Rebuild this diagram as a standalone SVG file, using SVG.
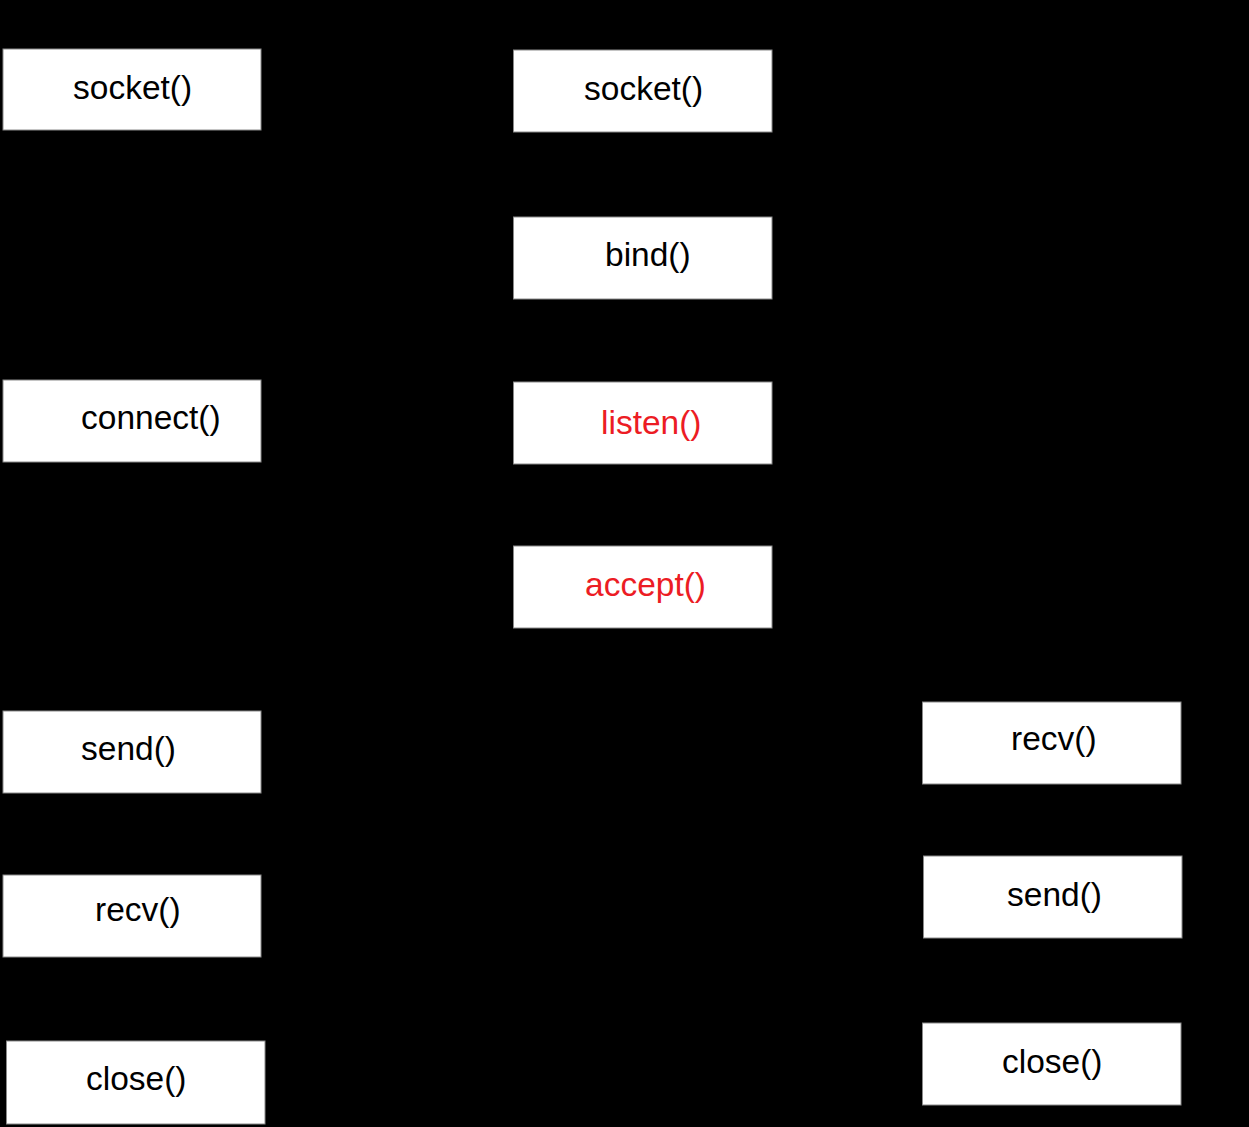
<svg xmlns="http://www.w3.org/2000/svg" width="1249" height="1127" viewBox="0 0 1249 1127">
<style>
.box{fill:#ffffff;stroke:#8a8a8a;stroke-width:1}
.lbl{font-family:"Liberation Sans",Arial,sans-serif;font-size:33.5px;fill:#000000}
.red{fill:#ec1c24}
.conn{stroke:#000000;stroke-width:2;fill:none}
</style>
<defs>
<marker id="arr" markerWidth="10" markerHeight="10" refX="9" refY="5" orient="auto" markerUnits="userSpaceOnUse">
<path d="M0,0 L10,5 L0,10 z" fill="#000000"/>
</marker>
</defs>
<rect x="0" y="0" width="1249" height="1127" fill="#000000"/>
<g id="connectors">
<line class="conn" x1="132" y1="131" x2="132" y2="379" marker-end="url(#arr)"/>
<line class="conn" x1="132" y1="463" x2="132" y2="710" marker-end="url(#arr)"/>
<line class="conn" x1="132" y1="794" x2="132" y2="874" marker-end="url(#arr)"/>
<line class="conn" x1="132" y1="958" x2="135" y2="1040" marker-end="url(#arr)"/>
<line class="conn" x1="643" y1="133" x2="643" y2="216" marker-end="url(#arr)"/>
<line class="conn" x1="643" y1="300" x2="643" y2="381" marker-end="url(#arr)"/>
<line class="conn" x1="643" y1="465" x2="643" y2="545" marker-end="url(#arr)"/>
<line class="conn" x1="1055" y1="785" x2="1055" y2="855" marker-end="url(#arr)"/>
<line class="conn" x1="1053" y1="939" x2="1052" y2="1022" marker-end="url(#arr)"/>
</g>
<g id="c_socket"><rect class="box" x="3" y="49" width="258" height="81"/><text class="lbl" x="73" y="99">socket()</text></g>
<g id="c_connect"><rect class="box" x="3" y="380" width="258" height="82"/><text class="lbl" x="81" y="429">connect()</text></g>
<g id="c_send"><rect class="box" x="3" y="711" width="258" height="82"/><text class="lbl" x="81" y="760">send()</text></g>
<g id="c_recv"><rect class="box" x="3" y="875" width="258" height="82"/><text class="lbl" x="95" y="921">recv()</text></g>
<g id="c_close"><rect class="box" x="6.5" y="1041" width="258.5" height="83"/><text class="lbl" x="86" y="1090">close()</text></g>
<g id="s_socket"><rect class="box" x="513.5" y="50" width="258.5" height="82"/><text class="lbl" x="584" y="100">socket()</text></g>
<g id="s_bind"><rect class="box" x="513.5" y="217" width="258.5" height="82"/><text class="lbl" x="605" y="266">bind()</text></g>
<g id="s_listen"><rect class="box" x="513.5" y="382" width="258.5" height="82"/><text class="lbl red" x="601" y="434">listen()</text></g>
<g id="s_accept"><rect class="box" x="513.5" y="546" width="258.5" height="82"/><text class="lbl red" x="585" y="596">accept()</text></g>
<g id="s_recv"><rect class="box" x="922.5" y="702" width="258.5" height="82"/><text class="lbl" x="1011" y="750">recv()</text></g>
<g id="s_send"><rect class="box" x="923.5" y="856" width="258.5" height="82"/><text class="lbl" x="1007" y="906">send()</text></g>
<g id="s_close"><rect class="box" x="922.5" y="1023" width="258.5" height="82"/><text class="lbl" x="1002" y="1073">close()</text></g>
</svg>
